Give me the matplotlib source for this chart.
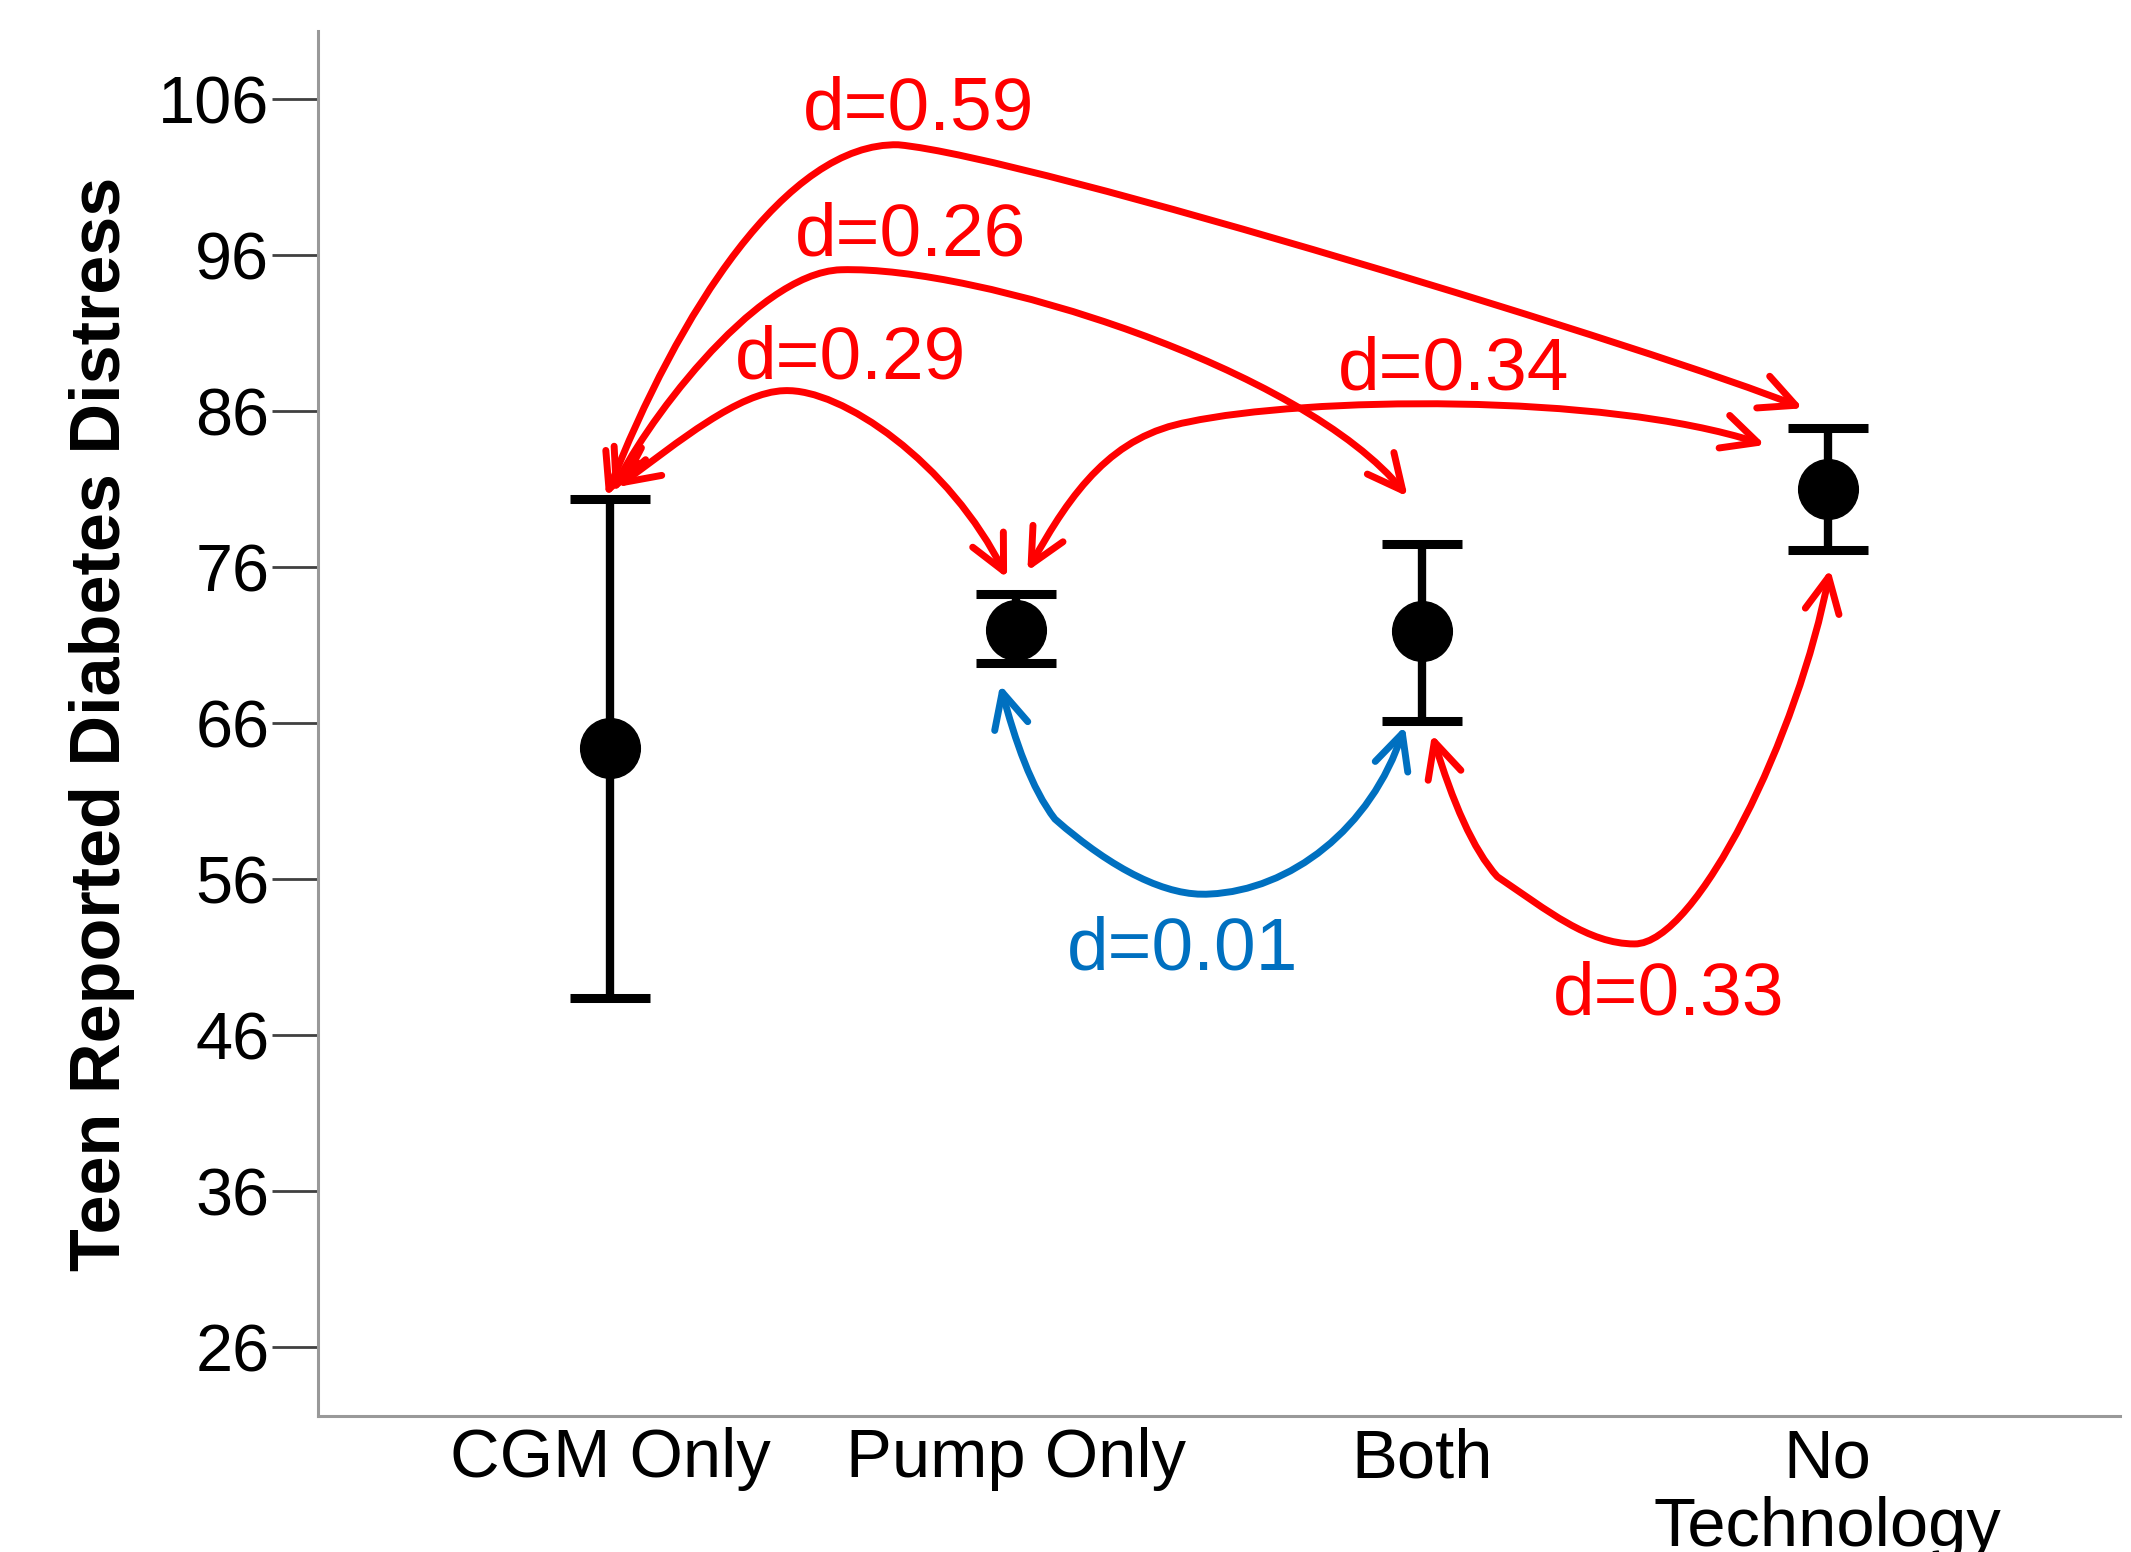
import matplotlib.pyplot as plt
from matplotlib.path import Path
from matplotlib.patches import FancyArrowPatch

# Data
groups = ['CGM Only', 'Pump Only', 'Both', 'No\nTechnology']
means = [64.4, 72.0, 71.9, 81.0]
upper = [80.4, 74.3, 77.5, 84.9]
lower = [48.4, 69.85, 66.15, 77.1]
y_ticks = [26, 36, 46, 56, 66, 76, 86, 96, 106]

effect_labels = ['d=0.59', 'd=0.26', 'd=0.29', 'd=0.34', 'd=0.01', 'd=0.33']

RED = '#FF0000'
BLUE = '#0070C0'

plt.rcParams['font.family'] = ['Liberation Sans', 'DejaVu Sans']

fig = plt.figure(figsize=(21.31, 15.52), dpi=100)
ax = fig.add_axes([0.1492, 0.0876, 0.8456, 0.8927])

x = list(range(len(groups)))
yerr = [[m - lo for m, lo in zip(means, lower)],
        [hi - m for m, hi in zip(means, upper)]]
ax.errorbar(x, means, yerr=yerr, fmt='o', color='black', ecolor='black',
            markersize=43, elinewidth=6, capsize=29, capthick=6.5, zorder=3)

# curved double-headed arrows: cubic bezier control points in data coords
arrow_paths = [
    [(-0.010, 80.53), (0.167, 92.28), (0.435, 103.25), (0.710, 103.08),
     (1.038, 102.29), (2.611, 89.67), (2.939, 86.19)],
    [(0.007, 80.80), (0.067, 84.45), (0.352, 94.89), (0.569, 95.07),
     (0.904, 95.33), (1.707, 88.80), (1.965, 80.53)],
    [(0.017, 81.14), (0.167, 84.02), (0.318, 87.24), (0.429, 87.32),
     (0.569, 87.50), (0.837, 82.71), (0.978, 75.31)],
    [(1.028, 75.75), (1.138, 80.97), (1.239, 84.45), (1.426, 85.32),
     (1.707, 86.89), (2.444, 87.24), (2.846, 83.84)],
    [(0.961, 68.48), (0.998, 64.87), (1.038, 61.82), (1.096, 59.86),
     (1.239, 56.60), (1.373, 54.86), (1.478, 55.06),
     (1.674, 55.30), (1.875, 59.21), (1.958, 65.83)],
    [(2.025, 65.30), (2.076, 60.95), (2.126, 57.91), (2.186, 56.17),
     (2.310, 53.99), (2.410, 51.86), (2.524, 51.86),
     (2.678, 51.86), (2.929, 65.30), (3.006, 75.88)],
]
label_pos = [(0.760, 104.03), (0.741, 96.0), (0.593, 88.11),
             (2.079, 87.41), (1.411, 50.22), (2.609, 47.34)]
colors = [RED, RED, RED, RED, BLUE, RED]

for verts, lab, (tx, ty), col in zip(arrow_paths, effect_labels, label_pos, colors):
    codes = [Path.MOVETO] + [Path.CURVE4] * (len(verts) - 1)
    arrow = FancyArrowPatch(path=Path(verts, codes),
                            arrowstyle='<->,head_length=0.45,head_width=0.22',
                            mutation_scale=56, lw=5, color=col,
                            capstyle='round', joinstyle='round',
                            transform=ax.transData, zorder=2)
    ax.add_patch(arrow)
    ax.text(tx, ty, lab, color=col, fontsize=54, ha='center', va='baseline')

ax.set_xlim(-0.72, 3.72)
ax.set_ylim(21.6, 110.4)
ax.set_yticks(y_ticks)
ax.set_xticks(x)
ax.set_xticklabels(groups, fontsize=49.5, linespacing=1.1)
ax.tick_params(axis='y', labelsize=48, length=33, width=2, color='#404040', pad=2)
ax.tick_params(axis='x', length=0, pad=8)

for side in ['top', 'right']:
    ax.spines[side].set_visible(False)
for side in ['left', 'bottom']:
    ax.spines[side].set_color('#999999')
    ax.spines[side].set_linewidth(2.2)

fig.text(0.048, 0.5335, 'Teen Reported Diabetes Distress', rotation=90,
         fontsize=50.5, fontweight='bold', ha='center', va='center')

fig.savefig('out.png', dpi=100)
